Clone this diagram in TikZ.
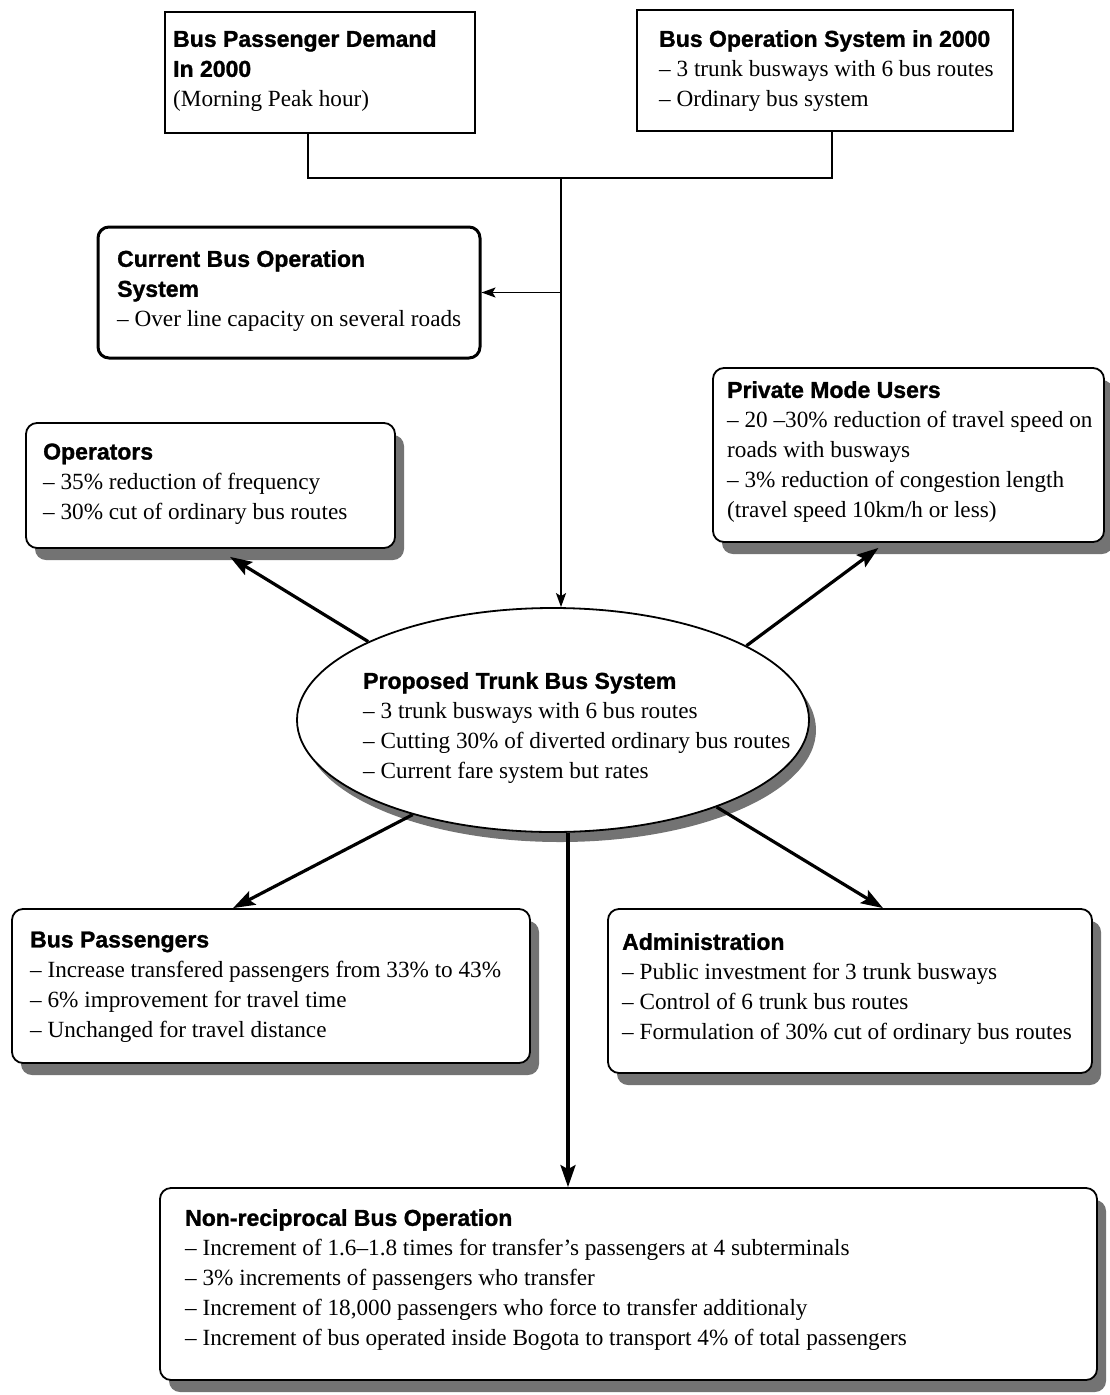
\documentclass[tikz,border=0pt]{standalone}
\usepackage{fontspec}
\setmainfont{Liberation Serif}
\newfontfamily\hdrfont{Liberation Sans}[BoldFeatures={FakeBold=1.2}]
\usetikzlibrary{shapes.geometric,shadows,arrows.meta,calc}
\newcommand\hdr[1]{{\hdrfont\bfseries\fontsize{23}{30}\selectfont #1}}
\begin{document}
\begin{tikzpicture}[x=1pt,y=-1pt,
  shbox/.style={draw, line width=1.8pt, rounded corners=11pt, fill=white, inner sep=0pt,
    drop shadow={shadow xshift=9pt, shadow yshift=-12pt, fill=black!55, opacity=1}},
  plainbox/.style={draw, line width=1.4pt, fill=white, inner sep=0pt},
  thickbox/.style={draw, line width=3pt, rounded corners=11pt, fill=white, inner sep=0pt},
  txt/.style={align=left, inner sep=0pt, anchor=west, font=\fontsize{23.2}{30}\selectfont},
  conn/.style={line width=1.8pt},
  thinarr/.style={line width=1.8pt, -{Stealth[length=14pt,width=10pt,inset=3pt]}},
  thkarr/.style={line width=3.2pt, -{Stealth[length=22pt,width=15pt,inset=4pt]}}
]
\useasboundingbox (0,0) rectangle (1110,1395);

% boxes
\node[plainbox, minimum width=310pt, minimum height=121pt] (demand) at (320,72.5) {};
\node[plainbox, minimum width=376pt, minimum height=121pt] (opsys) at (825,70.5) {};
\node[thickbox, minimum width=382pt, minimum height=131pt] (current) at (289,292.5) {};
\node[shbox, minimum width=369pt, minimum height=125pt] (ops) at (210.5,485.5) {};
\node[shbox, minimum width=391pt, minimum height=174pt] (priv) at (908.5,455) {};
\node[ellipse, draw, line width=1.8pt, fill=white, inner sep=0pt,
  minimum width=512pt, minimum height=224pt,
  drop shadow={shadow xshift=7pt, shadow yshift=-10pt, fill=black!55, opacity=1}] (ell) at (553,720) {};
\node[shbox, minimum width=518pt, minimum height=154pt] (bus) at (271,986) {};
\node[shbox, minimum width=484pt, minimum height=164pt] (adm) at (850,991) {};
\node[shbox, minimum width=937pt, minimum height=192pt] (non) at (628.5,1284) {};

% texts
\node[txt] (demandT) at (173,71) {\hdr{Bus Passenger Demand}\\\hdr{In 2000}\\(Morning Peak hour)};
\node[txt] (opsysT) at (659,71) {\hdr{Bus Operation System in 2000}\\– 3 trunk busways with 6 bus routes\\– Ordinary bus system};
\node[txt] (currentT) at (117,291) {\hdr{Current Bus Operation}\\\hdr{System}\\– Over line capacity on several roads};
\node[txt] (opsT) at (43,484) {\hdr{Operators}\\– 35\% reduction of frequency\\– 30\% cut of ordinary bus routes};
\node[txt] (privT) at (727,452) {\hdr{Private Mode Users}\\– 20 –30\% reduction of travel speed on\\roads with busways\\– 3\% reduction of congestion length\\(travel speed 10km/h or less)};
\node[txt] (ellT) at (363,728) {\hdr{Proposed Trunk Bus System}\\– 3 trunk busways with 6 bus routes\\– Cutting 30\% of diverted ordinary bus routes\\– Current fare system but rates};
\node[txt] (busT) at (30,987) {\hdr{Bus Passengers}\\– Increase transfered passengers from 33\% to 43\%\\– 6\% improvement for travel time\\– Unchanged for travel distance};
\node[txt] (admT) at (622,989) {\hdr{Administration}\\– Public investment for 3 trunk busways\\– Control of 6 trunk bus routes\\– Formulation of 30\% cut of ordinary bus routes};
\node[txt] (nonT) at (185,1280) {\hdr{Non-reciprocal Bus Operation}\\– Increment of 1.6–1.8 times for transfer's passengers at 4 subterminals\\– 3\% increments of passengers who transfer\\– Increment of 18,000 passengers who force to transfer additionaly\\– Increment of bus operated inside Bogota to transport 4\% of total passengers};

% connectors
\coordinate (join) at (561,178);
\draw[conn] ([xshift=-12pt]demand.south) |- (join) -| ([xshift=7pt]opsys.south);
\draw[thinarr] (join) -- ([xshift=8pt]ell.north);
\draw[thinarr] (join |- current.east) -- (current.east);

\draw[thkarr] (ell.157) -- ([xshift=19.5pt,yshift=-8pt]ops.south);
\draw[thkarr] (ell.21) -- ([xshift=-30pt,yshift=-5pt]priv.south);
\draw[thkarr] (ell.214) -- ([xshift=-38pt]bus.north);
\draw[thkarr] (ell.332) -- ([xshift=33pt]adm.north);
\draw[thkarr] ([xshift=15pt]ell.south) -- ([xshift=15pt]ell.south |- non.north);
\end{tikzpicture}
\end{document}
